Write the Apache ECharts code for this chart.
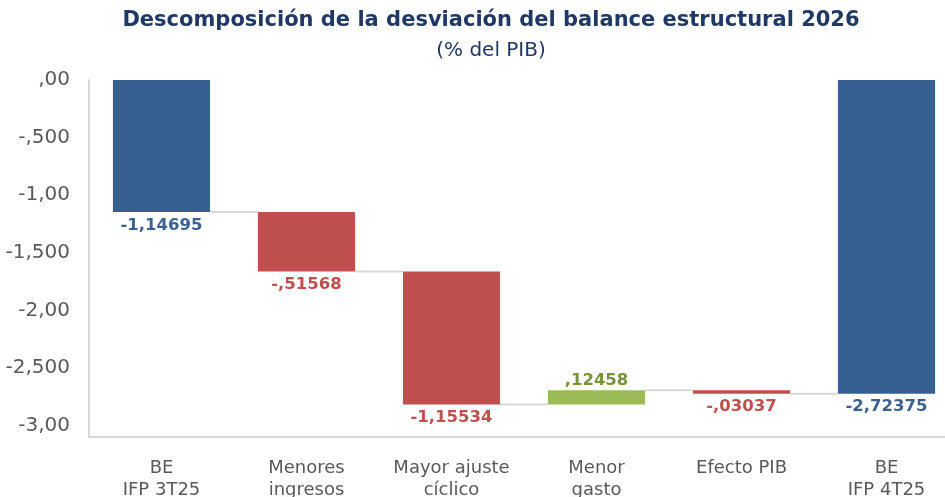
<!DOCTYPE html>
<html><head><meta charset="utf-8">
<script src="https://cdn.jsdelivr.net/npm/echarts@6/dist/echarts.min.js"></script>
<style>html,body{margin:0;padding:0;background:#fff;overflow:hidden}#c{width:945px;height:497px}</style>
</head><body><div id="c"></div>
<script>
const categories = ['BE\nIFP 3T25', 'Menores\ningresos', 'Mayor ajuste\ncíclico', 'Menor\ngasto', 'Efecto PIB', 'BE\nIFP 4T25'];
const changes = [-1.14695, -0.51568, -1.15534, 0.12458, -0.03037, -2.72375];
const isTotal = [true, false, false, false, false, true];
const yTickValues = [0, -0.5, -1, -1.5, -2, -2.5, -3];
const yTickLabels = [',00', '-,500', '-1,00', '-1,500', '-2,00', '-2,500', '-3,00'];

const BLUE = '#36608F', RED = '#C0504D', GREEN = '#9BBB59';
const BLUE_T = '#3B6190', RED_T = '#C0504D', GREEN_T = '#77933C';

// waterfall levels
let run = 0;
const startLv = [], endLv = [];
changes.forEach((v, i) => {
  if (isTotal[i]) { startLv.push(0); endLv.push(v); run = v; }
  else { startLv.push(run); run = run + v; endLv.push(run); }
});
const baseData = changes.map((v, i) => Math.max(startLv[i], endLv[i]));
const barData = changes.map((v, i) => Math.min(startLv[i], endLv[i]) - Math.max(startLv[i], endLv[i]));
function colorOf(i) { return isTotal[i] ? BLUE : (changes[i] >= 0 ? GREEN : RED); }
function tcolorOf(i) { return isTotal[i] ? BLUE_T : (changes[i] >= 0 ? GREEN_T : RED_T); }
function fmt(v) {
  let s = Math.abs(v).toFixed(5).replace('.', ',');
  if (s.startsWith('0,')) s = s.slice(1);
  return (v < 0 ? '-' : '') + s;
}

const chart = echarts.init(document.getElementById('c'));
const FONT = 'DejaVu Sans';
chart.setOption({
  animation: false,
  title: [
    { text: 'Descomposición de la desviación del balance estructural 2026', left: 486, top: 5, textAlign: 'center',
      textStyle: { fontFamily: FONT, fontSize: 21, fontWeight: 'bold', color: '#1F3864' } },
    { text: '(% del PIB)', left: 486, top: 36, textAlign: 'center',
      textStyle: { fontFamily: FONT, fontSize: 20, fontWeight: 'normal', color: '#1F3864' } }
  ],
  grid: { left: 89, right: -14, top: 80, bottom: 60, containLabel: false, outerBoundsMode: 'none' },
  xAxis: {
    type: 'category', data: categories,
    axisLine: { onZero: false, lineStyle: { color: '#D9D9D9', width: 2 } },
    axisTick: { show: false },
    axisLabel: { fontFamily: FONT, fontSize: 18, color: '#595959', margin: 20, lineHeight: 22, interval: 0 }
  },
  yAxis: {
    type: 'value', min: -3.1, max: 0,
    axisLine: { show: true, lineStyle: { color: '#D9D9D9', width: 2 } },
    axisTick: { show: false },
    splitLine: { show: false },
    axisLabel: { customValues: yTickValues, fontFamily: FONT, fontSize: 20, color: '#595959', margin: 19, padding: [5, 0, 0, 0],
      formatter: v => { const k = yTickValues.findIndex(t => Math.abs(t - v) < 1e-9); return k >= 0 ? yTickLabels[k] : ''; } }
  },
  series: [
    { type: 'bar', stack: 'w', data: baseData, barWidth: '67%', itemStyle: { color: 'transparent' }, silent: true },
    { type: 'bar', stack: 'w', data: barData.map((v, i) => ({ value: v, itemStyle: { color: colorOf(i) },
        label: { show: true, position: changes[i] >= 0 ? 'top' : 'bottom', distance: changes[i] >= 0 ? 1 : 5,
          formatter: () => fmt(changes[i]), color: tcolorOf(i), fontFamily: FONT, fontWeight: 'bold', fontSize: 16.5 } })),
      barWidth: '67%', z: 3 },
    { type: 'custom', z: 1, data: endLv.slice(0, -1).map((v, i) => [i, v]),
      renderItem: (params, api) => {
        const i = api.value(0), lv = api.value(1);
        const p = api.coord([i, lv]);
        const band = api.size([1, 0])[0];
        const bw = band * 0.67;
        return { type: 'line', shape: { x1: p[0] + bw / 2, y1: p[1], x2: p[0] + band - bw / 2, y2: p[1] },
          style: { stroke: '#D9D9D9', lineWidth: 2 } };
      } }
  ]
});
</script></body></html>
